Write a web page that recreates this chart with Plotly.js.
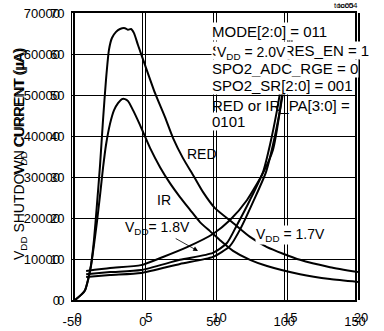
<!DOCTYPE html>
<html><head><meta charset="utf-8">
<script src="https://cdn.plot.ly/plotly-3.0.1.min.js"></script>
<style>html,body{margin:0;padding:0;background:#fff;}#chart{width:384px;height:331px;}</style>
</head><body><div id="chart"></div>
<script>
// ---- Chart A (toc04): VDD shutdown current vs temperature ----
const tempTicks = [-50, 0, 50, 100, 150];
const tempTickText = ['-50', '0', '50', '100', '150'];
const shutTicks = [0, 10000, 20000, 30000, 40000, 50000, 60000, 70000];
const shutTickText = ['0', '10000', '20000', '30000', '40000', '50000', '60000', '70000'];

const vdd20Temp = [-40, -23.1, -1.2, 14.3, 31.3, 49.6, 61.7, 73.7, 85.0, 92.0, 97.0, 100.5, 104.8];
const vdd20Curr = [7100, 7800, 8500, 10500, 12900, 16100, 19500, 24400, 31000, 36600, 46300, 56100, 65900];
const vdd18Temp = [-40, -23.1, -1.2, 26.3, 49.6, 59.5, 66.6, 75.8, 85.0, 89.9, 94.9, 99.1, 102.6];
const vdd18Curr = [6300, 6800, 7300, 9800, 11500, 13900, 18300, 24400, 31200, 37800, 46300, 54900, 61500];
const vdd17Temp = [-40, -23.1, -1.2, 26.3, 49.6, 61.7, 69.4, 78.6, 87.1, 92.0, 97.0, 101.2, 105.5];
const vdd17Curr = [5600, 6100, 6600, 8800, 10500, 13200, 17600, 24400, 31200, 37800, 46300, 54900, 63400];

// ---- Chart B (toc05): RED / IR curves ----
const bTicks = [0, 5, 10, 15, 20];
const bTickText = ['0', '5', '10', '15', '20'];
const bYTicks = [0, 10, 20, 30, 40, 50, 60, 70];
const bYTickText = ['0', '10', '20', '30', '40', '50', '60', '70'];

const redX = [0, 0.35, 0.71, 0.92, 1.13, 1.34, 1.55, 1.77, 1.98, 2.19, 2.40, 2.61, 2.90, 3.18, 3.53, 3.75, 3.96, 4.17, 4.45, 4.95, 5.65, 6.36, 6.93, 7.63, 8.34, 9.05, 9.89, 11.17, 12.37, 13.57, 15.90, 18.02, 20];
const redY = [0, 1.0, 2.4, 4.9, 8.5, 14.6, 23.2, 32.9, 43.9, 53.7, 61.0, 63.9, 65.4, 66.1, 66.3, 65.9, 66.1, 65.1, 62.2, 57.3, 50.5, 44.6, 39.5, 34.6, 30.5, 26.3, 22.4, 18.8, 15.4, 12.9, 9.8, 8.0, 6.8];
const irX = [0, 0.35, 0.71, 0.92, 1.13, 1.34, 1.55, 1.77, 1.98, 2.19, 2.47, 2.76, 3.04, 3.32, 3.53, 3.75, 4.10, 4.59, 5.30, 6.01, 6.71, 7.42, 8.13, 8.83, 9.54, 10.25, 11.17, 12.37, 13.57, 15.90, 18.02, 20];
const irY = [0, 1.0, 2.4, 4.9, 8.3, 13.4, 19.0, 25.6, 32.2, 37.8, 42.9, 46.3, 48.0, 49.0, 49.0, 48.5, 46.3, 42.7, 37.1, 32.4, 28.5, 25.1, 22.0, 19.0, 16.8, 14.6, 12.0, 9.8, 8.3, 6.3, 5.1, 4.4];

const settingsLines = ['MODE[2:0] = 011', 'SPO2_HI_RES_EN = 1', 'SPO2_ADC_RGE = 0', 'SPO2_SR[2:0] = 001', 'RED or IR_PA[3:0] =', '0101'];
const yTitleA = 'V<sub>DD</sub> SHUTDOWN CURRENT (µA)';
const yTitleB = 'V<sub>DD</sub> CURRENT (µA)';

// ---- geometry (pixels) ----
const W = 384, H = 331, L = 72, R = 358, T = 13, B = 300;
const PW = R - L, PH = B - T;
const px = v => (v - L) / PW;
const py = v => (B - v) / PH;
const FONT = 'Liberation Sans, Arial, Helvetica, sans-serif';
const curveLine = {color: '#000', width: 2, shape: 'spline', smoothing: 0.6};

const traces = [
  {x: vdd20Temp, y: vdd20Curr, xaxis: 'x', yaxis: 'y', mode: 'lines', line: curveLine, name: 'VDD = 2.0V'},
  {x: vdd18Temp, y: vdd18Curr, xaxis: 'x', yaxis: 'y', mode: 'lines', line: curveLine, name: 'VDD = 1.8V'},
  {x: vdd17Temp, y: vdd17Curr, xaxis: 'x', yaxis: 'y', mode: 'lines', line: curveLine, name: 'VDD = 1.7V'},
  {x: redX, y: redY, xaxis: 'x2', yaxis: 'y2', mode: 'lines', line: curveLine, name: 'RED'},
  {x: irX, y: irY, xaxis: 'x2', yaxis: 'y2', mode: 'lines', line: curveLine, name: 'IR'}
];

const tickFont = {family: FONT, size: 13, color: '#000'};
const textFont = s => ({family: FONT, size: s, color: '#000'});

const annotations = [];
const settingsY = [31, 50, 68, 85, 105, 121];
settingsLines.forEach((s, i) => {
  annotations.push({xref: 'paper', yref: 'paper', x: px(211), y: py(settingsY[i]), xanchor: 'left', yanchor: 'middle',
    text: s, showarrow: false, font: textFont(15), bgcolor: (i === 4) ? 'rgba(0,0,0,0)' : '#fff', borderpad: 0});
});
annotations.push(
  {xref: 'paper', yref: 'paper', x: px(251), y: py(53.5), xanchor: 'center', yanchor: 'middle', text: 'V<sub>DD</sub> = 2.0V', showarrow: false, font: textFont(14), bgcolor: '#fff', borderpad: 1},
  {xref: 'paper', yref: 'paper', x: px(202), y: py(154), xanchor: 'center', yanchor: 'middle', text: 'RED', showarrow: false, font: textFont(14)},
  {xref: 'paper', yref: 'paper', x: px(164), y: py(200), xanchor: 'center', yanchor: 'middle', text: 'IR', showarrow: false, font: textFont(14)},
  {xref: 'paper', yref: 'paper', x: px(198), y: py(251), text: 'V<sub>DD</sub>= 1.8V', showarrow: true, ax: -41, ay: -23,
    arrowhead: 2, arrowsize: 1.2, arrowwidth: 0.8, arrowcolor: '#000', standoff: 0, font: textFont(14)},
  {xref: 'paper', yref: 'paper', x: px(290), y: py(235), xanchor: 'center', yanchor: 'middle', text: 'V<sub>DD</sub> = 1.7V', showarrow: false, font: textFont(14), bgcolor: '#fff', borderpad: 0},
  {xref: 'paper', yref: 'paper', x: px(332), y: py(6), xanchor: 'left', yanchor: 'middle', text: 'toc05', showarrow: false, font: textFont(8)},
  {xref: 'paper', yref: 'paper', x: px(336), y: py(6), xanchor: 'left', yanchor: 'middle', text: 'toc04', showarrow: false, font: textFont(8)},
  {xref: 'paper', yref: 'paper', x: px(20), y: py(154), xanchor: 'center', yanchor: 'middle', text: yTitleA, textangle: -90, showarrow: false, font: textFont(14)},
  {xref: 'paper', yref: 'paper', x: px(20), y: py(112), xanchor: 'center', yanchor: 'middle', text: yTitleB, textangle: -90, showarrow: false, font: textFont(14)}
);

const layout = {
  width: W, height: H,
  margin: {l: L, r: W - R, t: T, b: H - B, pad: 0},
  paper_bgcolor: '#fff', plot_bgcolor: 'rgba(0,0,0,0)',
  showlegend: false,
  font: {family: FONT, color: '#000'},
  xaxis: {domain: [0, (PW - 3) / PW], range: [-50, 150], tickmode: 'array', tickvals: tempTicks, ticktext: tempTickText,
    showgrid: true, gridcolor: '#000', gridwidth: 1, zeroline: false, showline: true, linecolor: '#000', linewidth: 2, mirror: true,
    ticks: '', tickfont: tickFont, ticklabelstandoff: 8, anchor: 'y', fixedrange: true},
  xaxis2: {domain: [3 / PW, 1], range: [0, 20], tickmode: 'array', tickvals: bTicks, ticktext: bTickText,
    showgrid: true, gridcolor: '#000', gridwidth: 1, zeroline: false, showline: false,
    ticks: '', tickfont: tickFont, ticklabelstandoff: 8, ticklabelshift: 3, anchor: 'y2', fixedrange: true},
  yaxis: {domain: [0, 1], range: [0, 70000], tickmode: 'array', tickvals: shutTicks, ticktext: shutTickText,
    showgrid: true, gridcolor: '#000', gridwidth: 1, zeroline: false, showline: true, linecolor: '#000', linewidth: 1.5, mirror: true,
    ticks: '', tickfont: tickFont, ticklabelstandoff: 8, anchor: 'x', fixedrange: true},
  yaxis2: {domain: [0, 1], range: [0, 70], tickmode: 'array', tickvals: bYTicks, ticktext: bYTickText,
    showgrid: false, zeroline: false, showline: true, linecolor: '#000', linewidth: 2, mirror: true,
    ticks: '', tickfont: tickFont, ticklabelstandoff: 6, anchor: 'x2', fixedrange: true},
  annotations: annotations
};

Plotly.newPlot('chart', traces, layout, {displayModeBar: false, staticPlot: true});
</script></body></html>
